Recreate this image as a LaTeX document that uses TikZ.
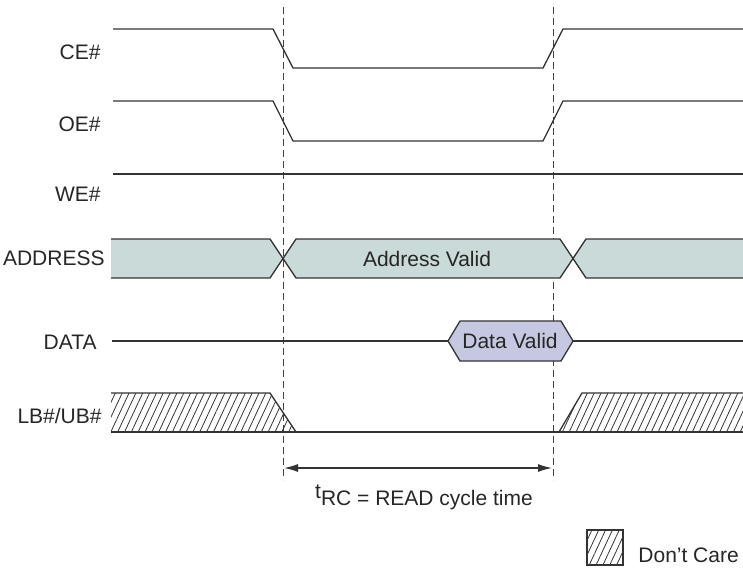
\documentclass[tikz,border=0pt]{standalone}
\usepackage{fontspec}
\setmainfont{Liberation Sans}
\usetikzlibrary{arrows.meta,patterns.meta}
\definecolor{wire}{HTML}{333333}
\definecolor{addrfill}{HTML}{C9DAD8}
\definecolor{datafill}{HTML}{C6C8E1}
\tikzset{
  signal/.style    = {draw=wire, line width=0.65pt, line join=miter},
  siglabel/.style  = {anchor=base east, inner sep=0pt, text=black!85,
                      font=\fontsize{10.5}{12}\selectfont},
  buslabel/.style  = {inner sep=0pt, text=black!85,
                      font=\fontsize{10.5}{12}\selectfont},
  dontcare/.style  = {pattern={Lines[angle=65,distance=3.1pt,line width=0.4pt]},
                      pattern color=wire},
  cycleline/.style = {draw=black!75, line width=0.5pt, dash pattern=on 3.5pt off 2pt},
}

\begin{document}
\begin{tikzpicture}[x=0.5pt, y=-0.5pt]
    \useasboundingbox (0,0) rectangle (743,567);

    % cycle markers
    \draw[cycleline] (283,7) -- (283,480);
    \draw[cycleline] (553,7) -- (553,480);

    % control lines
    \node[siglabel] (ce) at (101,60) {CE\#};
    \draw[signal] (113,29) -- (273,29) -- (293,68) -- (543,68) -- (563,29) -- (743,29);
    \node[siglabel] (oe) at (101,131) {OE\#};
    \draw[signal] (113,101) -- (273,101) -- (293,141) -- (543,141) -- (563,101) -- (743,101);
    \node[siglabel] (we) at (101,201) {WE\#};
    \draw[signal] (113,174) -- (743,174);

    % address bus
    \node[siglabel] (addr) at (105,265) {ADDRESS};
    \fill[addrfill] (111,239) -- (270,239) -- (283,258.5) -- (270,278) -- (111,278) -- cycle;
    \fill[addrfill] (283,258.5) -- (296,239) -- (560,239) -- (572,258.5) -- (560,278) -- (296,278) -- cycle;
    \fill[addrfill] (572,258.5) -- (586,239) -- (743,239) -- (743,278) -- (586,278) -- cycle;
    \draw[signal] (111,239) -- (270,239) -- (296,278) -- (560,278) -- (586,239) -- (743,239);
    \draw[signal] (111,278) -- (270,278) -- (296,239) -- (560,239) -- (586,278) -- (743,278);
    \node[buslabel] (addrvalid) at (427,258.5) {Address Valid};

    % data bus
    \node[siglabel] (data) at (97,349) {DATA};
    \draw[signal] (112,341) -- (448,341);
    \draw[signal, fill=datafill] (448,341) -- (460,321) -- (561,321) -- (573,341)
        -- (561,361) -- (460,361) -- cycle;
    \draw[signal] (573,341) -- (743,341);
    \node[buslabel] (datavalid) at (510,341) {Data Valid};

    % byte enables
    \node[siglabel] (lbub) at (102,423) {LB\#/UB\#};
    \fill[dontcare] (111,393) -- (270,393) -- (296,432) -- (111,432) -- cycle;
    \fill[dontcare] (559,432) -- (582,393) -- (743,393) -- (743,432) -- cycle;
    \draw[signal] (111,393) -- (270,393) -- (296,432);
    \draw[signal] (111,432) -- (743,432);
    \draw[signal] (559,432) -- (582,393) -- (743,393);

    % read cycle time
    \coordinate (tstart) at (284,468);
    \coordinate (tend) at (552,468);
    \draw[signal, {Latex[length=7pt,width=4pt]}-{Latex[length=7pt,width=4pt]}] (tstart) -- (tend);
    \node[buslabel, anchor=base] (trc) at (424,505) {\raisebox{0.55ex}{t}RC = READ cycle time};

    % legend
    \draw[signal, dontcare] (587,530) rectangle (623,565);
    \node[buslabel, anchor=base west] (legend) at (638,562) {Don't Care};
\end{tikzpicture}
\end{document}
